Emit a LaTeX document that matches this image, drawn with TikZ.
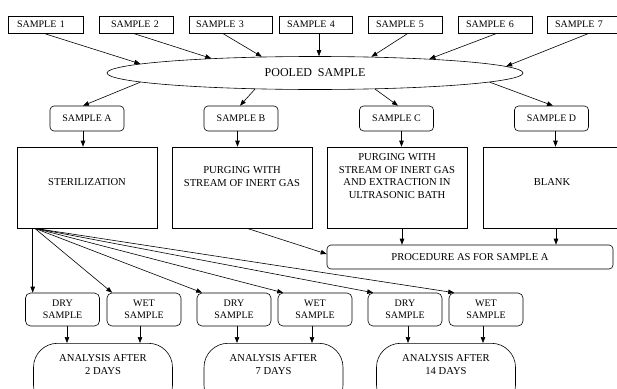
\documentclass[tikz,border=0pt]{standalone}
\usepackage{fontspec}
\setmainfont{Liberation Serif}
\usetikzlibrary{arrows.meta,shapes.geometric,calc}

\begin{document}
\begin{tikzpicture}[x=1pt,y=-1pt,line width=0.6pt,
    arr/.style={-{Triangle[length=6pt,width=4.5pt]}},
    topbox/.style={draw,minimum height=17pt,inner ysep=0pt,align=left,font=\fontsize{10}{12}\selectfont},
    subbox/.style={draw,rounded corners=4pt,minimum width=74pt,minimum height=25pt,inner sep=0pt,font=\fontsize{10}{12}\selectfont},
    bigbox/.style={draw,minimum width=140pt,minimum height=81pt,inner sep=0pt},
    bigtext/.style={align=center,inner sep=0pt,font=\fontsize{10.6}{12.6}\selectfont},
    smallbox/.style={draw,rounded corners=5pt,minimum width=74pt,minimum height=33pt,inner sep=0pt,align=center,font=\fontsize{10}{12}\selectfont},
    anabox/.style={draw,rounded corners=24pt,minimum width=139pt,minimum height=66pt,anchor=north},
    anatext/.style={align=center,inner sep=0pt,font=\fontsize{10.6}{12.8}\selectfont}]
  \clip (0,0) rectangle (617,388);

  % the seven samples
  \foreach \i/\x/\w/\p in {1/45.5/75/9,2/136/74/12,3/230.5/83/7,4/315.5/73/8,5/405/74/8,6/495/74/8,7/584/74/8}{
    \pgfmathsetmacro\tw{\w-2*\p}
    \node[topbox,text width=\tw pt,inner xsep=\p pt] (s\i) at (\x,24.5) {SAMPLE \i};
  }
  \node[draw,ellipse,minimum width=416pt,minimum height=33pt,inner sep=0pt,
    font=\fontsize{12}{14}\selectfont] (pooled) at (315,73) {POOLED\ \ SAMPLE};
  \draw[arr] ([xshift=-2pt]s1.south) -- (pooled.177.7);
  \draw[arr] ([xshift=-3pt]s2.south) -- (pooled.172.9);
  \draw[arr] ([xshift=-8pt]s3.south) -- (pooled.163.8);
  \draw[arr] ([xshift=3.5pt]s4.south) -- ([xshift=3.5pt]s4.south |- pooled.north);
  \draw[arr] ([xshift=3pt]s5.south) -- (pooled.16.2);
  \draw[arr] ([xshift=2pt]s6.south) -- (pooled.7.1);
  \draw[arr] ([xshift=5pt]s7.south) -- (pooled.2.3);

  % four portions
  \node[subbox] (smpA) at (87,118.5) {SAMPLE A};
  \node[subbox] (smpB) at (241,118.5) {SAMPLE B};
  \node[subbox] (smpC) at (396.5,118.5) {SAMPLE C};
  \node[subbox] (smpD) at (551.5,118.5) {SAMPLE D};
  \draw[arr] (pooled.183) -- ([xshift=-4pt]smpA.north);
  \draw[arr] (pooled.195) -- ([xshift=-1pt]smpB.north);
  \draw[arr] (pooled.345) -- ([xshift=1.5pt]smpC.north);
  \draw[arr] (pooled.357.6) -- ([xshift=1.5pt]smpD.north);

  \node[bigbox] (boxA) at (87,187.5) {};
  \node[bigbox] (boxB) at (242,187.5) {};
  \node[bigbox] (boxC) at (397,187.5) {};
  \node[bigbox] (boxD) at (553,187.5) {};
  \node[bigtext] (txtA) at (87,182) {STERILIZATION};
  \node[bigtext] (txtB) at (242,176.5) {PURGING WITH\\STREAM OF INERT GAS};
  \node[bigtext] (txtC) at (397,176) {PURGING WITH\\STREAM OF INERT GAS\\AND EXTRACTION IN\\ULTRASONIC BATH};
  \node[bigtext] (txtD) at (552,182) {BLANK};
  \draw[arr] ([xshift=-4pt]smpA.south) -- ([xshift=-4pt]smpA.south |- boxA.north);
  \draw[arr] ([xshift=-3.5pt]smpB.south) -- ([xshift=-3.5pt]smpB.south |- boxB.north);
  \draw[arr] ([xshift=5pt]smpC.south) -- ([xshift=5pt]smpC.south |- boxC.north);
  \draw[arr] ([xshift=4pt]smpD.south) -- ([xshift=4pt]smpD.south |- boxD.north);

  \node[draw,rounded corners=4pt,minimum width=286pt,minimum height=24pt,inner sep=0pt,
    font=\fontsize{10.6}{12}\selectfont] (proc) at (470,257) {PROCEDURE AS FOR SAMPLE A};
  \draw[arr] ([xshift=5pt]boxB.south) -- ([yshift=3pt]proc.west);
  \draw[arr] ([xshift=5pt]boxC.south) -- ([xshift=5pt]boxC.south |- proc.north);
  \draw[arr] ([xshift=3pt]boxD.south) -- ([xshift=3pt]boxD.south |- proc.north);

  % dry and wet samples
  \foreach \n/\x/\t in {dry1/62.5/DRY,wet1/144/WET,dry2/234/DRY,wet2/315/WET,dry3/405/DRY,wet3/486/WET}
    \node[smallbox] (\n) at (\x,309.5) {\t\\SAMPLE};
  \coordinate (fan) at ([xshift=18pt]boxA.south west);
  \draw[arr] ([xshift=16pt]boxA.south west) -- ([xshift=16pt]boxA.south west |- dry1.north);
  \foreach \n in {wet1,dry2,wet2,dry3,wet3}
    \draw[arr] (fan) -- ([xshift=5.5pt]\n.north west);

  % analysis
  \node[anabox] (ana1) at (103,343) {};
  \node[anabox] (ana2) at (273.5,343) {};
  \node[anabox] (ana3) at (446,343) {};
  \node[anatext] (anatxt1) at (103,364.5) {ANALYSIS AFTER\\2 DAYS};
  \node[anatext] (anatxt2) at (273.5,364.5) {ANALYSIS AFTER\\7 DAYS};
  \node[anatext] (anatxt3) at (446,364.5) {ANALYSIS AFTER\\14 DAYS};
  \foreach \n/\a/\s in {dry1/ana1/4.5,wet1/ana1/-4,dry2/ana2/3,wet2/ana2/-3,dry3/ana3/3,wet3/ana3/-3}
    \draw[arr] ([xshift=\s pt]\n.south) -- ([xshift=\s pt]\n.south |- \a.north);
\end{tikzpicture}
\end{document}
